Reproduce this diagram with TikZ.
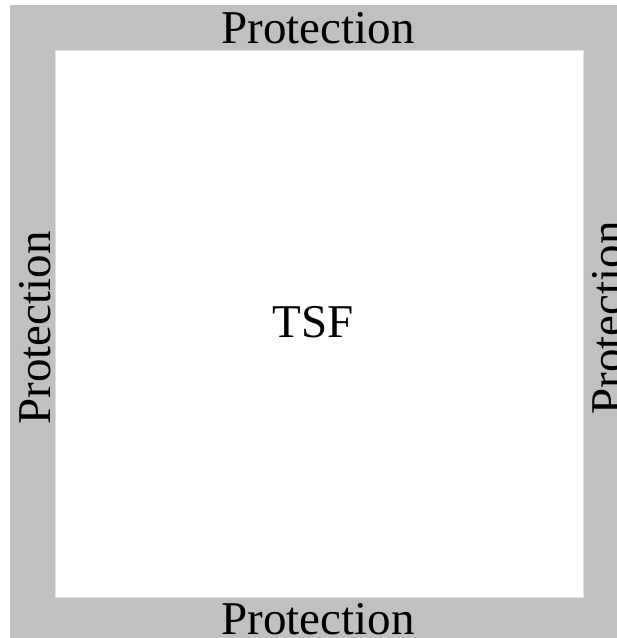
\documentclass[tikz,border=0pt]{standalone}
\usepackage{fontspec}
\setmainfont{Liberation Serif}
\usepackage{tikz}
\definecolor{protgray}{RGB}{192,192,192}
\tikzstyle{lbl}=[inner sep=0pt,font=\fontsize{47}{50}\selectfont]
\begin{document}
\begin{tikzpicture}[x=1pt,y=-1pt]
	\useasboundingbox (0,0) rectangle (617,638);
	\clip (0,0) rectangle (617,638);
	\fill[white] (0,0) rectangle (617,638);
	\fill[protgray] (10,5) rectangle (660,680);
	\filldraw[fill=white,draw=gray!25,line width=.6pt] (55,50) rectangle (583,597);
	\node[lbl,anchor=base] (top) at (318,43) {Protection};
	\node[lbl,anchor=base] (bottom) at (318,634) {Protection};
	\node[lbl,anchor=base,rotate=90] (left) at (50,328) {Protection};
	\node[lbl,anchor=base,rotate=90] (right) at (623,318) {Protection};
	\node[lbl,anchor=base] (tsf) at (313,337) {TSF};
\end{tikzpicture}
\end{document}
